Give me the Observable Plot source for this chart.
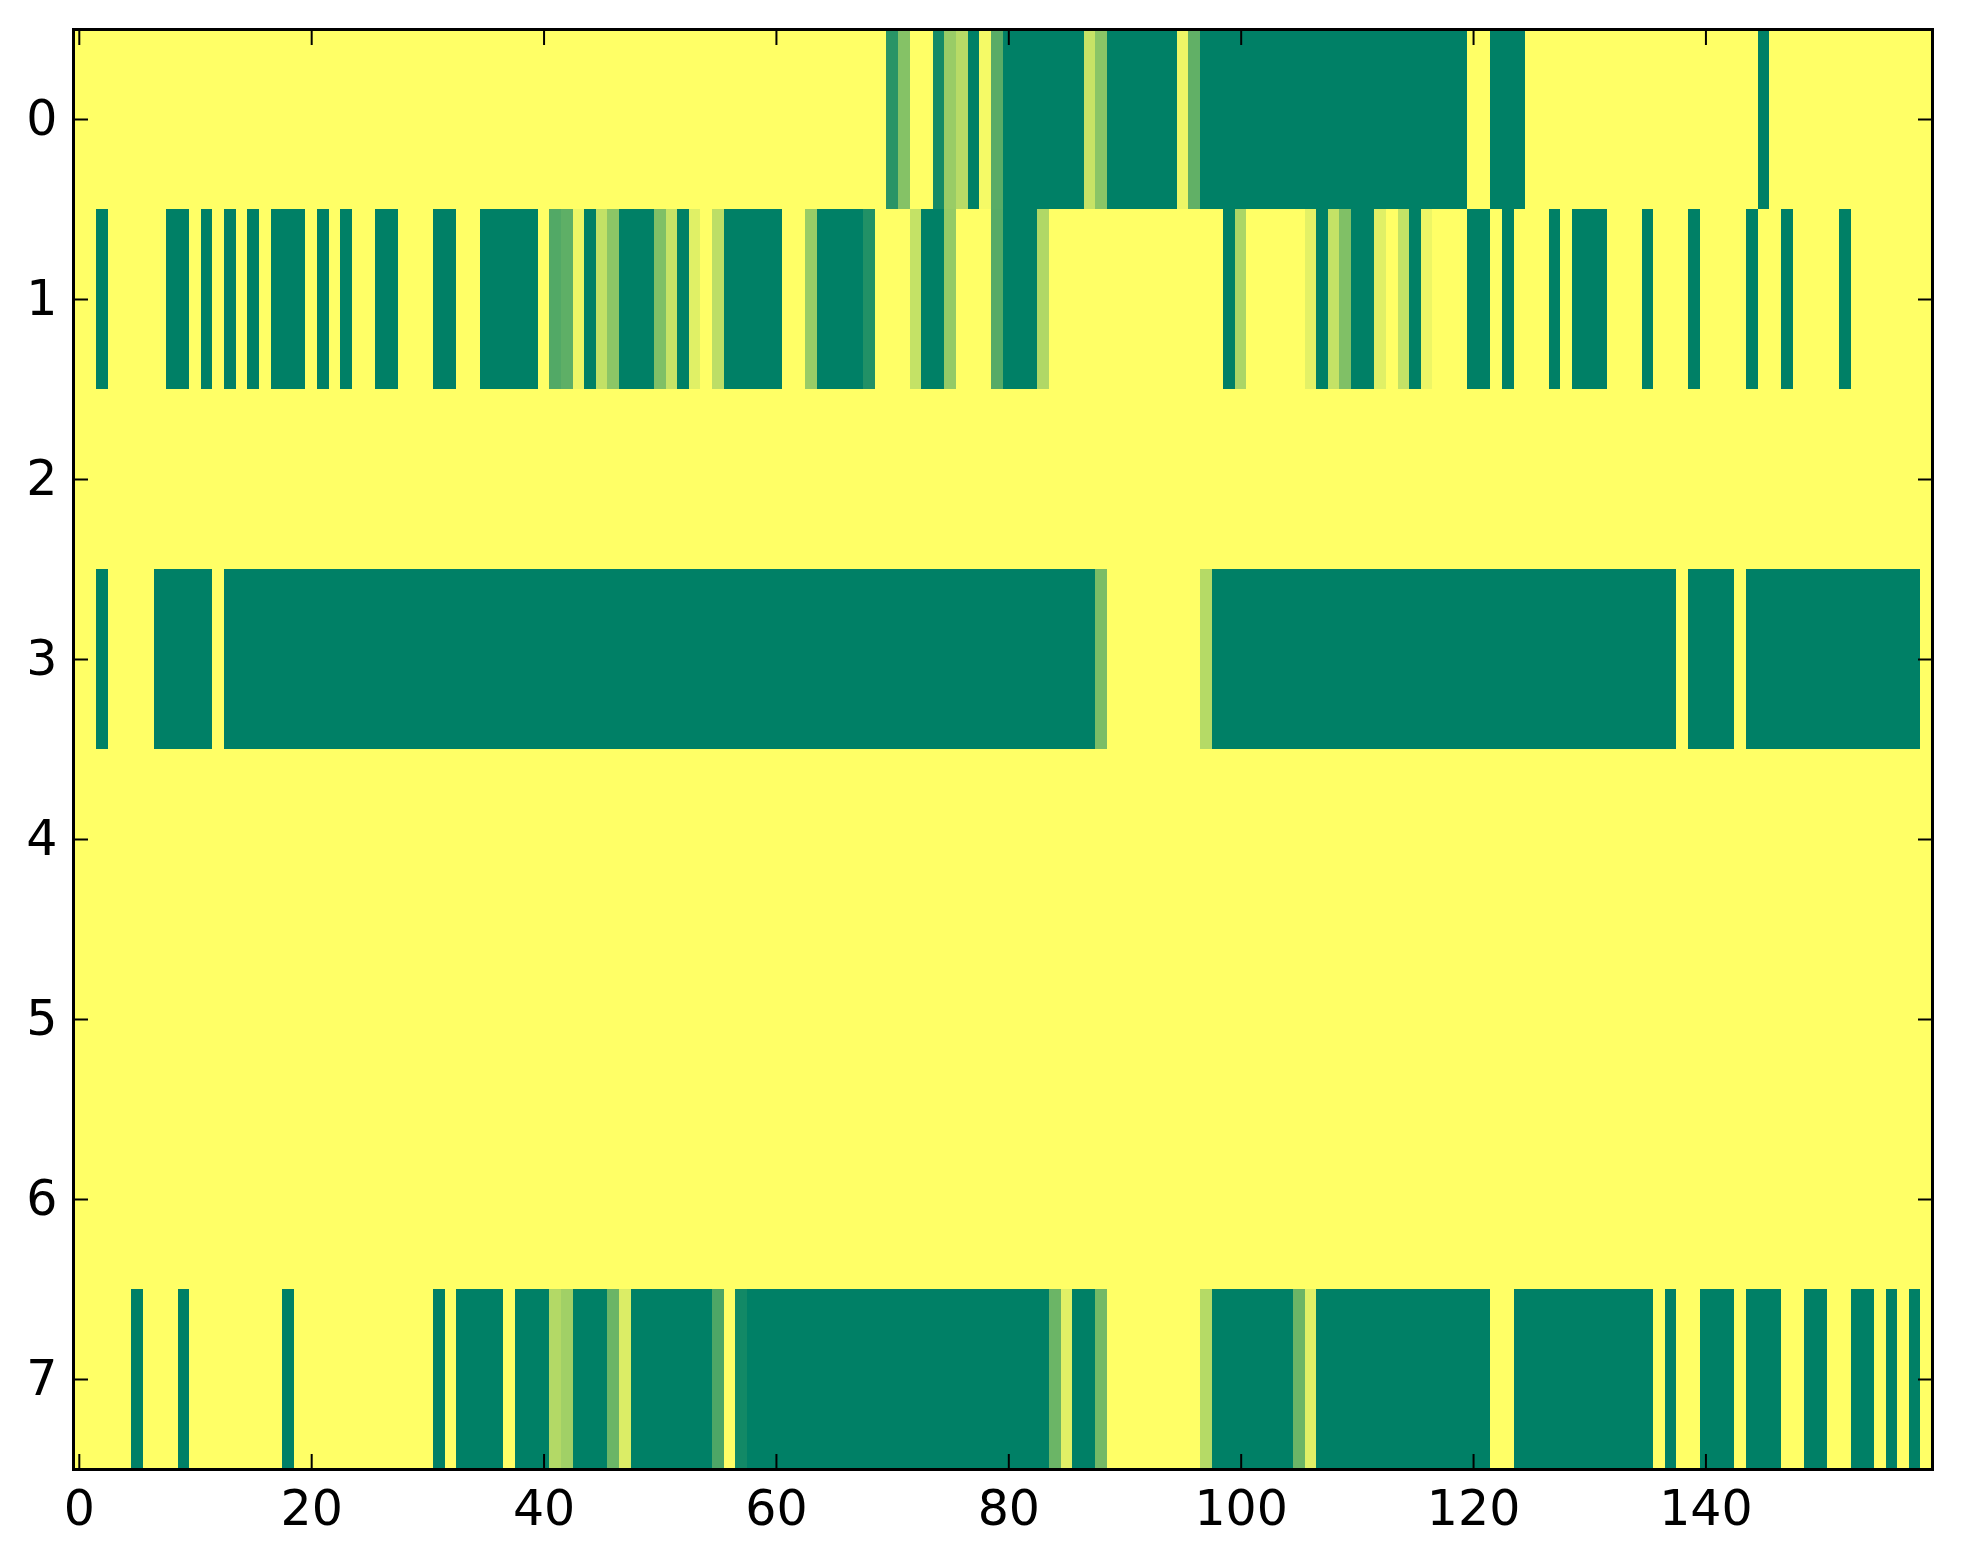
<!DOCTYPE html>
<html>
<head>
<meta charset="utf-8">
<script src="https://cdn.jsdelivr.net/npm/d3@7"></script>
<script src="https://cdn.jsdelivr.net/npm/@observablehq/plot@0.6"></script>
<style>
  html, body { margin: 0; padding: 0; background: white; }
</style>
</head>
<body>
<div id="chart"></div>
<script>
// Row indices (y categories) and column indices (x categories)
const rowIds = [0, 1, 2, 3, 4, 5, 6, 7];
const columns = d3.range(160);

// Tick labels
const xTicks = [0, 20, 40, 60, 80, 100, 120, 140];
const yTicks = [0, 1, 2, 3, 4, 5, 6, 7];

// Cell values, one array per row (0 = dark green, 1 = yellow)
const row0 = [
  1,1,1,1,1,1,1,1,1,1,
  1,1,1,1,1,1,1,1,1,1,
  1,1,1,1,1,1,1,1,1,1,
  1,1,1,1,1,1,1,1,1,1,
  1,1,1,1,1,1,1,1,1,1,
  1,1,1,1,1,1,1,1,1,1,
  1,1,1,1,1,1,1,1,1,1,
  .16,.52,1,1,.08,.6,.72,0,.96,.35,
  0,0,0,0,0,0,0,.78,.54,0,
  0,0,0,0,0,.93,.38,0,0,0,
  0,0,0,0,0,0,0,0,0,0,
  0,0,0,0,0,0,0,0,0,0,
  1,1,0,0,0,1,1,1,1,1,
  1,1,1,1,1,1,1,1,1,1,
  1,1,1,1,1,0,1,1,1,1,
  1,1,1,1,1,1,1,1,1,1
];
const row1 = [
  1,1,0,1,1,1,1,1,0,0,
  1,0,1,0,1,0,1,0,0,0,
  1,0,1,0,1,1,0,0,1,1,
  1,0,0,1,1,0,0,0,0,0,
  1,.32,.37,.93,0,.76,.55,0,0,0,
  .5,.78,0,.88,1,.74,0,0,0,0,
  0,1,1,.6,0,0,0,0,.13,1,
  1,1,.77,0,0,.58,1,1,1,.34,
  0,0,0,.69,1,1,1,1,1,1,
  1,1,1,1,1,1,1,1,1,0,
  .67,1,1,1,1,1,.89,0,.77,.5,
  0,0,.88,1,.77,0,.93,1,1,1,
  0,0,1,0,1,1,1,0,1,0,
  0,0,1,1,1,0,1,1,1,0,
  1,1,1,1,0,1,1,0,1,1,
  1,1,0,1,1,1,1,1,1,1
];
const row2 = [
  1,1,1,1,1,1,1,1,1,1, 1,1,1,1,1,1,1,1,1,1,
  1,1,1,1,1,1,1,1,1,1, 1,1,1,1,1,1,1,1,1,1,
  1,1,1,1,1,1,1,1,1,1, 1,1,1,1,1,1,1,1,1,1,
  1,1,1,1,1,1,1,1,1,1, 1,1,1,1,1,1,1,1,1,1,
  1,1,1,1,1,1,1,1,1,1, 1,1,1,1,1,1,1,1,1,1,
  1,1,1,1,1,1,1,1,1,1, 1,1,1,1,1,1,1,1,1,1,
  1,1,1,1,1,1,1,1,1,1, 1,1,1,1,1,1,1,1,1,1,
  1,1,1,1,1,1,1,1,1,1, 1,1,1,1,1,1,1,1,1,1
];
const row3 = [
  1,1,0,1,1,1,1,0,0,0,
  0,0,1,0,0,0,0,0,0,0,
  0,0,0,0,0,0,0,0,0,0,
  0,0,0,0,0,0,0,0,0,0,
  0,0,0,0,0,0,0,0,0,0,
  0,0,0,0,0,0,0,0,0,0,
  0,0,0,0,0,0,0,0,0,0,
  0,0,0,0,0,0,0,0,0,0,
  0,0,0,0,0,0,0,0,.48,1,
  1,1,1,1,1,1,1,.71,0,0,
  0,0,0,0,0,0,0,0,0,0,
  0,0,0,0,0,0,0,0,0,0,
  0,0,0,0,0,0,0,0,0,0,
  0,0,0,0,0,0,0,0,1,0,
  0,0,0,1,0,0,0,0,0,0,
  0,0,0,0,0,0,0,0,0,1
];
const row4 = [
  1,1,1,1,1,1,1,1,1,1, 1,1,1,1,1,1,1,1,1,1,
  1,1,1,1,1,1,1,1,1,1, 1,1,1,1,1,1,1,1,1,1,
  1,1,1,1,1,1,1,1,1,1, 1,1,1,1,1,1,1,1,1,1,
  1,1,1,1,1,1,1,1,1,1, 1,1,1,1,1,1,1,1,1,1,
  1,1,1,1,1,1,1,1,1,1, 1,1,1,1,1,1,1,1,1,1,
  1,1,1,1,1,1,1,1,1,1, 1,1,1,1,1,1,1,1,1,1,
  1,1,1,1,1,1,1,1,1,1, 1,1,1,1,1,1,1,1,1,1,
  1,1,1,1,1,1,1,1,1,1, 1,1,1,1,1,1,1,1,1,1
];
const row5 = [
  1,1,1,1,1,1,1,1,1,1, 1,1,1,1,1,1,1,1,1,1,
  1,1,1,1,1,1,1,1,1,1, 1,1,1,1,1,1,1,1,1,1,
  1,1,1,1,1,1,1,1,1,1, 1,1,1,1,1,1,1,1,1,1,
  1,1,1,1,1,1,1,1,1,1, 1,1,1,1,1,1,1,1,1,1,
  1,1,1,1,1,1,1,1,1,1, 1,1,1,1,1,1,1,1,1,1,
  1,1,1,1,1,1,1,1,1,1, 1,1,1,1,1,1,1,1,1,1,
  1,1,1,1,1,1,1,1,1,1, 1,1,1,1,1,1,1,1,1,1,
  1,1,1,1,1,1,1,1,1,1, 1,1,1,1,1,1,1,1,1,1
];
const row6 = [
  1,1,1,1,1,1,1,1,1,1, 1,1,1,1,1,1,1,1,1,1,
  1,1,1,1,1,1,1,1,1,1, 1,1,1,1,1,1,1,1,1,1,
  1,1,1,1,1,1,1,1,1,1, 1,1,1,1,1,1,1,1,1,1,
  1,1,1,1,1,1,1,1,1,1, 1,1,1,1,1,1,1,1,1,1,
  1,1,1,1,1,1,1,1,1,1, 1,1,1,1,1,1,1,1,1,1,
  1,1,1,1,1,1,1,1,1,1, 1,1,1,1,1,1,1,1,1,1,
  1,1,1,1,1,1,1,1,1,1, 1,1,1,1,1,1,1,1,1,1,
  1,1,1,1,1,1,1,1,1,1, 1,1,1,1,1,1,1,1,1,1
];
const row7 = [
  1,1,1,1,1,0,1,1,1,0,
  1,1,1,1,1,1,1,1,0,1,
  1,1,1,1,1,1,1,1,1,1,
  1,0,1,0,0,0,0,1,0,0,
  0,.7,.63,0,0,0,.42,.86,0,0,
  0,0,0,0,0,.3,1,.07,0,0,
  0,0,0,0,0,0,0,0,0,0,
  0,0,0,0,0,0,0,0,0,0,
  0,0,0,0,.42,.88,0,0,.45,1,
  1,1,1,1,1,1,1,.71,0,0,
  0,0,0,0,0,.42,.88,0,0,0,
  0,0,0,0,0,0,0,0,0,0,
  0,0,1,1,0,0,0,0,0,0,
  0,0,0,0,0,0,1,0,1,1,
  0,0,0,1,0,0,0,1,1,0,
  0,1,1,0,0,1,0,1,0,1
];

const rows = [row0, row1, row2, row3, row4, row5, row6, row7];
const cells = rows.flatMap((vals, r) =>
  vals.map((v, c) => ({row: rowIds[r], col: columns[c], value: v}))
);

const chart = Plot.plot({
  width: 1963,
  height: 1564,
  marginLeft: 73,
  marginRight: 31,
  marginTop: 29,
  marginBottom: 95,
  style: {fontFamily: "DejaVu Sans", fontSize: "49px", background: "white", color: "black", overflow: "visible"},
  x: {type: "band", domain: columns, padding: 0, round: false, align: 0.5, label: null},
  y: {type: "band", domain: rowIds, padding: 0, round: false, label: null},
  color: {type: "linear", domain: [0, 1], range: ["rgb(0,128,102)", "rgb(255,255,102)"], interpolate: "rgb"},
  marks: [
    Plot.cell(cells, {x: "col", y: "row", fill: "value", inset: 0, shapeRendering: "crispEdges"}),
    Plot.axisX(xTicks, {anchor: "bottom", tickSize: 0, tickPadding: 21, label: null, fontSize: 49}),
    Plot.axisX(xTicks, {anchor: "bottom", tickSize: -15, strokeWidth: 2, tickFormat: () => "", label: null}),
    Plot.axisX(xTicks, {anchor: "top", tickSize: -15, strokeWidth: 2, tickFormat: () => "", label: null}),
    Plot.axisY(yTicks, {anchor: "left", tickSize: 0, tickPadding: 16, label: null, fontSize: 49}),
    Plot.axisY(yTicks, {anchor: "left", tickSize: -15, strokeWidth: 2, tickFormat: () => "", label: null}),
    Plot.axisY(yTicks, {anchor: "right", tickSize: -15, strokeWidth: 2, tickFormat: () => "", label: null}),
    Plot.frame({stroke: "black", strokeWidth: 3})
  ]
});
document.getElementById("chart").appendChild(chart);
</script>
</body>
</html>
